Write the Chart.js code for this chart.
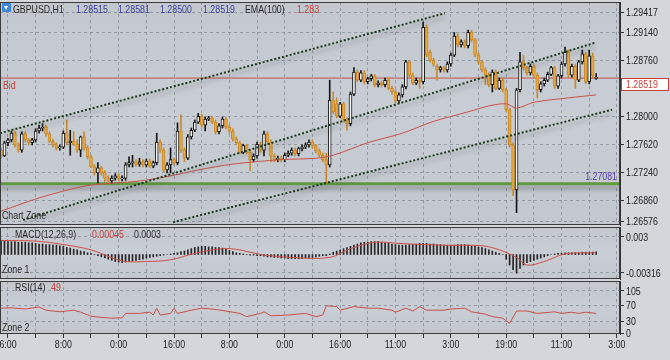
<!DOCTYPE html>
<html><head><meta charset="utf-8">
<script src="https://cdn.jsdelivr.net/npm/chart.js@4.4.1/dist/chart.umd.min.js"></script>
<style>
html,body{margin:0;padding:0;}
body{width:670px;height:360px;background:#d3d6da;position:relative;overflow:hidden;}
canvas{position:absolute;left:0;}
.t{position:absolute;font-family:'Liberation Sans',Arial,sans-serif;font-size:11px;line-height:12px;white-space:nowrap;color:#2a2a2a;transform:scaleX(0.8);transform-origin:0 0;}
.b{color:#3a3f9a}.r{color:#c8403c}
#ico{position:absolute;left:2px;top:3px;width:9px;height:9px;background:#3d86d8;border-radius:1px}
#ico:after{content:"";position:absolute;left:2px;top:3px;border-left:2.5px solid transparent;border-right:2.5px solid transparent;border-top:4px solid #fff}
</style></head>
<body>
<canvas id="cMain" width="670" height="227" style="top:0"></canvas>
<canvas id="cMacd" width="670" height="54" style="top:226px"></canvas>
<canvas id="cRsi" width="670" height="80" style="top:280px"></canvas>
<div id="ico"></div>
<div class="t" style="left:13px;top:3px">GBPUSD,H1</div>
<div class="t b" style="left:76px;top:3px">1.28515</div>
<div class="t b" style="left:118px;top:3px">1.28581</div>
<div class="t b" style="left:160px;top:3px">1.28500</div>
<div class="t b" style="left:203px;top:3px">1.28519</div>
<div class="t" style="left:245px;top:3px">EMA(100)</div>
<div class="t r" style="left:297px;top:3px">1.283</div>
<div class="t" style="left:2px;top:209px">Chart Zone</div>
<div class="t" style="left:15px;top:228px">MACD(12,26,9)</div>
<div class="t r" style="left:92px;top:228px">0.00045</div>
<div class="t" style="left:134px;top:228px">0.0003</div>
<div class="t" style="left:2px;top:263px">Zone 1</div>
<div class="t" style="left:15px;top:281px">RSI(14)</div>
<div class="t r" style="left:51px;top:281px">49</div>
<div class="t" style="left:2px;top:321px">Zone 2</div>
<script>
// ---------- DATA ----------
const opens = [1.2754,1.2746,1.2764,1.2768,1.2777,1.2761,1.2754,1.2776,1.2768,1.2764,
1.2768,1.2780,1.2784,1.2785,1.2776,1.2766,1.2761,1.2757,1.2758,1.2777,
1.2764,1.2766,1.2762,1.2754,1.2772,1.2757,1.2745,1.2731,1.2723,1.2730,
1.2723,1.2716,1.2712,1.2716,1.2719,1.2715,1.2716,1.2734,1.2737,1.2738,
1.2735,1.2738,1.2734,1.2739,1.2732,1.2737,1.2765,1.2754,1.2727,1.2734,
1.2741,1.2737,1.2780,1.2754,1.2743,1.2772,1.2781,1.2792,1.2800,1.2788,
1.2796,1.2798,1.2792,1.2779,1.2787,1.2796,1.2785,1.2780,1.2769,1.2764,
1.2751,1.2760,1.2751,1.2741,1.2746,1.2762,1.2754,1.2776,1.2765,1.2746,
1.2741,1.2743,1.2741,1.2747,1.2750,1.2754,1.2749,1.2756,1.2758,1.2761,
1.2765,1.2760,1.2753,1.2747,1.2741,1.2734,1.2822,1.2817,1.2800,1.2817,
1.2795,1.2790,1.2830,1.2860,1.2849,1.2859,1.2847,1.2851,1.2855,1.2843,
1.2845,1.2843,1.2849,1.2838,1.2833,1.2821,1.2829,1.2840,1.2874,1.2856,
1.2845,1.2849,1.2847,1.2921,1.2887,1.2876,1.2868,1.2863,1.2866,1.2863,
1.2871,1.2883,1.2909,1.2897,1.2901,1.2896,1.2914,1.2904,1.2883,1.2874,
1.2863,1.2856,1.2843,1.2860,1.2838,1.2849,1.2836,1.2809,1.2761,1.2700,
1.2836,1.2874,1.2866,1.2859,1.2868,1.2856,1.2836,1.2844,1.2849,1.2857,
1.2866,1.2841,1.2855,1.2871,1.2887,1.2856,1.2868,1.2849,1.2874,1.2885,
1.2847,1.2882,1.28515];
const highs = [1.2757,1.2766,1.2770,1.2780,1.2780,1.2764,1.2779,1.2779,1.2770,1.2770,
1.2783,1.2788,1.2790,1.2788,1.2779,1.2769,1.2764,1.2761,1.2780,1.2795,
1.2781,1.2779,1.2768,1.2773,1.2779,1.2760,1.2747,1.2734,1.2737,1.2732,
1.2726,1.2719,1.2719,1.2722,1.2722,1.2719,1.2737,1.2745,1.2747,1.2741,
1.2743,1.2741,1.2742,1.2742,1.2739,1.2777,1.2768,1.2757,1.2737,1.2757,
1.2743,1.2791,1.2802,1.2757,1.2775,1.2784,1.2795,1.2804,1.2803,1.2799,
1.2800,1.2800,1.2795,1.2790,1.2799,1.2799,1.2788,1.2783,1.2772,1.2766,
1.2762,1.2762,1.2754,1.2749,1.2765,1.2765,1.2780,1.2779,1.2768,1.2749,
1.2746,1.2746,1.2750,1.2753,1.2757,1.2757,1.2758,1.2761,1.2764,1.2768,
1.2768,1.2762,1.2756,1.2750,1.2750,1.2849,1.2833,1.2825,1.2819,1.2819,
1.2798,1.2833,1.2866,1.2863,1.2862,1.2862,1.2853,1.2857,1.2857,1.2848,
1.2848,1.2852,1.2852,1.2841,1.2836,1.2832,1.2843,1.2876,1.2876,1.2859,
1.2852,1.2852,1.2928,1.2924,1.2890,1.2879,1.2871,1.2868,1.2868,1.2874,
1.2886,1.2914,1.2912,1.2904,1.2904,1.2917,1.2917,1.2906,1.2886,1.2876,
1.2866,1.2859,1.2863,1.2863,1.2852,1.2852,1.2838,1.2811,1.2764,1.2838,
1.2887,1.2883,1.2868,1.2871,1.2871,1.2859,1.2847,1.2852,1.2860,1.2868,
1.2868,1.2857,1.2874,1.2894,1.2890,1.2871,1.2871,1.2876,1.2890,1.2887,
1.2890,1.2886,1.28581];
const lows = [1.2743,1.2745,1.2760,1.2765,1.2758,1.2751,1.2751,1.2765,1.2761,1.2761,
1.2765,1.2777,1.2780,1.2773,1.2764,1.2758,1.2754,1.2754,1.2756,1.2761,
1.2747,1.2760,1.2751,1.2745,1.2754,1.2742,1.2730,1.2720,1.2709,1.2720,
1.2711,1.2709,1.2709,1.2713,1.2712,1.2712,1.2713,1.2731,1.2731,1.2732,
1.2732,1.2731,1.2731,1.2730,1.2730,1.2734,1.2751,1.2724,1.2723,1.2723,
1.2734,1.2734,1.2751,1.2738,1.2741,1.2769,1.2779,1.2790,1.2785,1.2780,
1.2794,1.2790,1.2776,1.2776,1.2784,1.2783,1.2777,1.2766,1.2761,1.2749,
1.2749,1.2749,1.2726,1.2738,1.2743,1.2751,1.2746,1.2762,1.2738,1.2738,
1.2738,1.2738,1.2738,1.2745,1.2747,1.2746,1.2746,1.2753,1.2756,1.2758,
1.2757,1.2750,1.2745,1.2738,1.2709,1.2731,1.2803,1.2798,1.2798,1.2792,
1.2781,1.2787,1.2828,1.2847,1.2847,1.2844,1.2844,1.2848,1.2840,1.2840,
1.2840,1.2840,1.2836,1.2830,1.2818,1.2818,1.2826,1.2837,1.2853,1.2843,
1.2843,1.2838,1.2844,1.2881,1.2874,1.2868,1.2849,1.2860,1.2860,1.2860,
1.2868,1.2881,1.2894,1.2894,1.2893,1.2893,1.2901,1.2881,1.2871,1.2860,
1.2843,1.2840,1.2833,1.2836,1.2836,1.2833,1.2806,1.2758,1.2692,1.2669,
1.2833,1.2863,1.2856,1.2856,1.2853,1.2825,1.2833,1.2841,1.2847,1.2855,
1.2838,1.2838,1.2852,1.2868,1.2853,1.2853,1.2838,1.2847,1.2871,1.2844,
1.2844,1.2852,1.28500];
const closes = [1.2746,1.2764,1.2768,1.2777,1.2761,1.2754,1.2776,1.2768,1.2764,1.2768,
1.2780,1.2784,1.2785,1.2776,1.2766,1.2761,1.2757,1.2758,1.2777,1.2764,
1.2766,1.2762,1.2754,1.2772,1.2757,1.2745,1.2731,1.2723,1.2730,1.2723,
1.2716,1.2712,1.2716,1.2719,1.2715,1.2716,1.2734,1.2737,1.2738,1.2735,
1.2738,1.2734,1.2739,1.2732,1.2737,1.2765,1.2754,1.2727,1.2734,1.2741,
1.2737,1.2780,1.2754,1.2743,1.2772,1.2781,1.2792,1.2800,1.2788,1.2796,
1.2798,1.2792,1.2779,1.2787,1.2796,1.2785,1.2780,1.2769,1.2764,1.2751,
1.2760,1.2751,1.2741,1.2746,1.2762,1.2754,1.2776,1.2765,1.2746,1.2741,
1.2743,1.2741,1.2747,1.2750,1.2754,1.2749,1.2756,1.2758,1.2761,1.2765,
1.2760,1.2753,1.2747,1.2741,1.2734,1.2822,1.2806,1.2800,1.2817,1.2795,
1.2790,1.2830,1.2860,1.2849,1.2859,1.2847,1.2851,1.2855,1.2843,1.2845,
1.2843,1.2849,1.2838,1.2833,1.2821,1.2829,1.2840,1.2874,1.2856,1.2845,
1.2849,1.2847,1.2921,1.2883,1.2876,1.2871,1.2863,1.2866,1.2863,1.2871,
1.2883,1.2909,1.2897,1.2901,1.2896,1.2914,1.2904,1.2883,1.2874,1.2863,
1.2856,1.2843,1.2860,1.2838,1.2849,1.2836,1.2809,1.2761,1.2700,1.2836,
1.2874,1.2866,1.2859,1.2868,1.2856,1.2836,1.2844,1.2849,1.2857,1.2866,
1.2841,1.2855,1.2871,1.2887,1.2856,1.2868,1.2849,1.2874,1.2885,1.2847,
1.2882,1.2855,1.28519];

// EMA(100) read at sample bars
const emaBars = [0,11,24,32,40,48,57,67,81,91,96,106,116,125,135,141,146,149,154,164,172];
const emaValues = [1.2671,1.2689,1.2705,1.2709,1.2712,1.2718,1.2727,1.2735,1.2741,1.2743,1.2747,1.2764,1.2777,1.2793,1.2806,1.2814,1.2817,1.2811,1.2819,1.2825,1.2829];

// trend lines (bar index, price)
const channelUpper = [[-0.3,1.2777],[128.3,1.2940]];
const channelMiddle = [[6.4,1.2659],[171.7,1.2900]];
const channelLower = [[49.7,1.2656],[176.6,1.2809]];
const supportLevel = 1.27081;
const bidPrice = 1.28519;

// MACD histogram per bar
const macdHist = [0.0023,0.0023,0.0022,0.0022,0.0022,0.0021,0.0021,0.0021,0.0020,0.0020,0.0019,
0.0018,0.0018,0.0017,0.0017,0.0016,0.0016,
0.0015,0.0014,0.0012,0.0011,0.0009,0.0008,0.0006,0.0005,
0.0003,0.0002,0.0000,-0.0002,-0.0004,
-0.0006,-0.0008,-0.0010,-0.0012,-0.0013,-0.0014,
-0.0013,-0.0012,-0.0011,-0.0010,-0.0009,-0.0008,-0.0006,
-0.0005,-0.0004,-0.0003,-0.0002,-0.0001,0.0000,0.0001,
0.0002,0.0003,0.0005,0.0006,0.0008,0.0010,0.0012,0.0013,
0.0014,0.0014,0.0013,0.0013,0.0012,0.0012,0.0011,
0.0009,0.0007,0.0005,0.0003,
0.0002,0.0001,0.0000,-0.0001,-0.0001,-0.0002,-0.0002,
-0.0003,-0.0004,-0.0004,-0.0005,-0.0005,-0.0006,-0.0006,-0.0007,-0.0007,-0.0007,-0.0007,
-0.0007,-0.0006,-0.0006,-0.0005,-0.0004,-0.0003,-0.0002,
-0.0002,0.0001,0.0004,0.0006,0.0008,
0.0010,0.0012,0.0014,0.0016,0.0018,0.0020,
0.0021,0.0021,0.0022,0.0022,
0.0022,0.0021,0.0020,0.0019,0.0018,0.0017,
0.0016,0.0016,0.0016,0.0017,0.0017,0.0018,
0.0019,0.0019,0.0019,0.0018,0.0018,0.0017,0.0017,0.0016,0.0016,
0.0016,0.0016,0.0017,0.0017,0.0017,0.0016,0.0015,0.0014,
0.0013,0.0012,0.0010,0.0008,
0.0006,0.0004,0.0002,0.0000,
-0.0008,-0.0018,-0.0026,-0.0032,
-0.0024,-0.0018,-0.0014,
-0.0012,-0.0010,-0.0008,-0.0006,-0.0004,-0.0002,0.0000,0.0001,0.0002,
0.0002,0.0003,0.0003,0.0003,0.0003,0.0003,0.0004,0.0004,0.0004,0.0004,0.00045];
const signalBars = [0,10,17,26,35,42,49,56,64,69,75,84,95,101,108,115,127,139,144,149,152,157,163,172];
const signalValues = [0.0024,0.0023,0.0018,0.0008,-0.0011,-0.0012,-0.0009,0.0002,0.0010,0.0008,0.0000,-0.0005,-0.0005,0.0010,0.0021,0.0019,0.0016,0.0015,0.0008,-0.0005,-0.0018,-0.0012,0.0001,0.0003];

// RSI(14) read at sample bars
const rsiBars = [0,3,7,11,13,17,21,23,26,29,32,35,36,40,43,44,45,46,49,50,51,55,58,61,65,69,71,75,76,78,83,88,91,93,94,97,98,102,106,109,113,114,117,119,121,123,128,130,134,136,140,142,145,147,149,152,155,160,162,165,167,169,172];
const rsiValues = [62,63,60,65,57,53,57,52,42,39,37,38,49,49,52,45,62,45,49,62,49,57,62,60,55,49,41,49,53,43,45,49,41,45,68,66,57,66,62,62,57,52,62,55,66,57,57,60,62,53,47,41,37,24,55,55,49,53,49,52,49,52,49];

// axes
const mainTicks = [1.26576,1.26860,1.27240,1.27620,1.28000,1.28760,1.29140,1.29417];
const macdTicks = [-0.00316,0.003];
const macdTickLabels = ['-0.00316','0.003'];
const rsiTicks = [0,30,70,105];
const timeLabelBars = [2,18,34,50,66,82,98,114,130,146,162,178];
const timeLabels = ['6:00','8:00','0:00','16:00','8:00','0:00','16:00','11:00','3:00','19:00','11:00','3:00'];

// ---------- LAYOUT / STYLE ----------
const FONT = "'Liberation Sans', Arial, sans-serif";
const FSIZE = 11, SX = 0.8;
const X_MIN = -0.3, X_MAX = 178.9;
const GRID_STEP = 8;
const gridBars = [];
for (let b = timeLabelBars[0]; b <= X_MAX; b += GRID_STEP) gridBars.push(b);
const gridColor = 'rgba(105,115,128,0.55)';
const AXIS_W = 50;

Chart.defaults.font.family = FONT;
Chart.defaults.font.size = FSIZE;
Chart.defaults.color = '#222';
Chart.defaults.animation = false;

const yLabelFns = {
  cMain: v => v.toFixed(5),
  cMacd: (v, i) => macdTickLabels[i],
  cRsi: v => String(v)
};
const withTime = {cRsi: true};

function narrowText(ctx, text, x, y, align, baseline, color) {
  ctx.save();
  ctx.font = FSIZE + 'px ' + FONT;
  ctx.fillStyle = color; ctx.textAlign = align; ctx.textBaseline = baseline;
  ctx.translate(x, y); ctx.scale(SX, 1);
  ctx.fillText(text, 0, 0);
  ctx.restore();
}

const panelPlugin = {
  id: 'panel',
  beforeDraw(chart) {
    const {ctx, chartArea: a} = chart;
    ctx.save();
    const g = ctx.createLinearGradient(0, a.top, 0, a.bottom);
    g.addColorStop(0, '#c3c8cf'); g.addColorStop(0.5, '#c9ced4'); g.addColorStop(1, '#c3c8ce');
    ctx.fillStyle = g;
    ctx.fillRect(a.left, a.top, a.right - a.left, a.bottom - a.top);
    ctx.restore();
  },
  afterDraw(chart) {
    const {ctx, chartArea: a, scales} = chart;
    ctx.save();
    ctx.strokeStyle = '#3b3b3b'; ctx.lineWidth = 1;
    ctx.strokeRect(a.left + 0.5, a.top + 0.5, a.right - a.left - 1, a.bottom - a.top - 1);
    ctx.restore();
    const id = chart.canvas.id;
    const ys = scales.y, lab = yLabelFns[id];
    ys.ticks.forEach((t, i) => narrowText(ctx, lab(t.value, i), a.right + 6, ys.getPixelForValue(t.value) + 0.5, 'left', 'middle', '#222'));
    if (withTime[id]) {
      const xs = scales.x;
      timeLabelBars.forEach((b, k) => narrowText(ctx, timeLabels[k], xs.getPixelForValue(b), a.bottom + 11, 'center', 'middle', '#222'));
    }
  }
};
const shadowPlugin = {
  id: 'shadow',
  beforeDatasetDraw(chart, args) {
    const ds = chart.data.datasets[args.index];
    if (ds.shadowed) { const c = chart.ctx; c.save(); c.shadowColor = 'rgba(50,55,60,0.45)'; c.shadowBlur = 4; c.shadowOffsetY = 4; }
  },
  afterDatasetDraw(chart, args) {
    if (chart.data.datasets[args.index].shadowed) chart.ctx.restore();
  }
};
const mainLabelPlugin = {
  id: 'mainLabels',
  afterDraw(chart) {
    const {ctx, chartArea: a, scales: {y}} = chart;
    const yb = Math.round(y.getPixelForValue(bidPrice));
    const ys = y.getPixelForValue(supportLevel);
    narrowText(ctx, 'Bid', a.left + 3, yb + 2, 'left', 'top', '#c8403c');
    ctx.save();
    ctx.fillStyle = '#ffffff';
    ctx.fillRect(a.right + 1, yb, 48, 13);
    ctx.strokeStyle = '#c8403c'; ctx.lineWidth = 1;
    ctx.strokeRect(a.right + 1.5, yb + 0.5, 47, 12);
    ctx.restore();
    narrowText(ctx, bidPrice.toFixed(5), a.right + 6, yb + 7, 'left', 'middle', '#c8403c');
    narrowText(ctx, supportLevel.toFixed(5), a.right - 3, ys - 7, 'right', 'middle', '#5a3ea8');
  }
};

function xScale(showLabels) {
  return {
    type: 'linear', min: X_MIN, max: X_MAX, offset: false,
    afterBuildTicks: s => { s.ticks = gridBars.map(v => ({value: v})); },
    afterFit: s => { s.height = showLabels ? 26 : 0; s.paddingLeft = 0; s.paddingRight = 0; },
    ticks: {display: false},
    grid: {color: gridColor, offset: false, drawTicks: showLabels, tickLength: 4, tickColor: '#333', tickBorderDash: []},
    border: {display: false, dash: [3, 3]}
  };
}
function yScale(min, max, ticks) {
  return {
    type: 'linear', position: 'right', min: min, max: max,
    afterBuildTicks: s => { s.ticks = ticks.map(v => ({value: v})); },
    afterFit: s => { s.width = AXIS_W; s.paddingTop = 0; s.paddingBottom = 0; },
    ticks: {display: false},
    grid: {color: gridColor, drawTicks: true, tickLength: 4, tickColor: '#333', tickBorderDash: []},
    border: {display: true, color: '#333', dash: [3, 3]}
  };
}
const common = {responsive: false, animation: false, events: [],
  plugins: {legend: {display: false}, tooltip: {enabled: false}}};

// ---------- MAIN ----------
const bull = closes.map((c, i) => c >= opens[i]);
const pts = (bars, vals) => bars.map((b, i) => ({x: b, y: vals[i]}));
const seg = p => p.map(q => ({x: q[0], y: q[1]}));
const trend = (p) => ({type: 'line', data: seg(p), borderColor: '#1c3a1c', borderWidth: 2, borderDash: [2, 2],
  pointRadius: 0, order: 0, shadowed: true});

new Chart(document.getElementById('cMain'), {
  type: 'bar',
  data: {datasets: [
    {type: 'line', data: [{x: X_MIN, y: supportLevel}, {x: X_MAX, y: supportLevel}], borderColor: '#62983f', borderWidth: 3, pointRadius: 0, order: 6, shadowed: true},
    {type: 'line', data: [{x: X_MIN, y: bidPrice}, {x: X_MAX, y: bidPrice}], borderColor: '#c5504b', borderWidth: 1, pointRadius: 0, order: 5},
    {type: 'bar', data: closes.map((c, i) => ({x: i, y: [lows[i], highs[i]]})), barThickness: 1, grouped: false,
      backgroundColor: bull.map(b => b ? '#161616' : '#c88a2c'), borderWidth: 0, order: 3},
    {type: 'bar', data: closes.map((c, i) => ({x: i, y: [opens[i], c]})), barThickness: 3, grouped: false, minBarLength: 1,
      backgroundColor: bull.map(b => b ? '#f3f3f3' : '#eca83c'), borderColor: bull.map(b => b ? '#161616' : '#c68a2e'),
      borderWidth: 1, borderSkipped: false, order: 2},
    {type: 'line', data: pts(emaBars, emaValues), borderColor: '#c8524c', borderWidth: 1, pointRadius: 0, tension: 0.3, order: 1},
    trend(channelUpper), trend(channelMiddle), trend(channelLower)
  ]},
  options: Object.assign({}, common, {
    layout: {padding: {top: 2, bottom: 2, left: 0, right: 0}},
    scales: {x: xScale(false), y: yScale(1.26522, 1.29553, mainTicks)}
  }),
  plugins: [panelPlugin, shadowPlugin, mainLabelPlugin]
});

// ---------- MACD ----------
new Chart(document.getElementById('cMacd'), {
  type: 'bar',
  data: {datasets: [
    {type: 'line', data: pts(signalBars, signalValues), borderColor: '#cf4f4a', borderWidth: 1, pointRadius: 0, tension: 0.35, order: 0},
    {type: 'bar', data: macdHist.map((v, i) => ({x: i, y: v})), barThickness: 1, grouped: false, backgroundColor: '#262626', borderWidth: 0, order: 1}
  ]},
  options: Object.assign({}, common, {
    layout: {padding: {top: 1, bottom: 1, left: 0, right: 0}},
    scales: {x: xScale(false), y: yScale(-0.00419, 0.00471, macdTicks)}
  }),
  plugins: [panelPlugin]
});

// ---------- RSI ----------
new Chart(document.getElementById('cRsi'), {
  type: 'line',
  data: {datasets: [
    {data: pts(rsiBars, rsiValues), borderColor: '#c9504b', borderWidth: 1, pointRadius: 0, tension: 0}
  ]},
  options: Object.assign({}, common, {
    layout: {padding: {top: 1, bottom: 0, left: 0, right: 0}},
    scales: {x: xScale(true), y: yScale(-2.5, 130, rsiTicks)}
  }),
  plugins: [panelPlugin]
});
</script>
</body></html>
